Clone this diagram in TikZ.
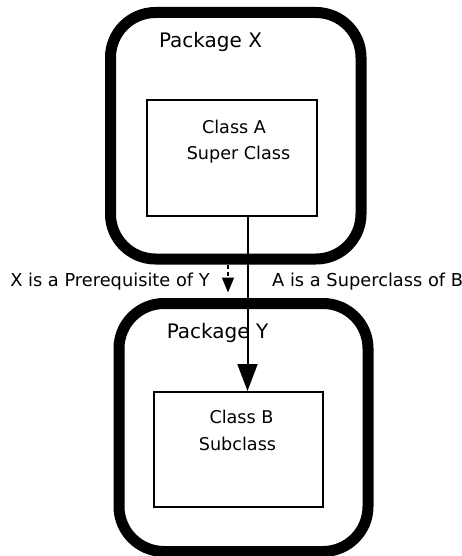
\documentclass[tikz,border=0pt]{standalone}
\usepackage{fontspec}
\setmainfont{DejaVu Sans}
\usepackage{tikz}
\usetikzlibrary{positioning,arrows.meta,calc}

\begin{document}
\begin{tikzpicture}[
    x=1pt, y=-1pt,
    package/.style={rectangle, rounded corners=45pt, draw=black, line width=11pt, inner sep=0pt, fill=white},
    classbox/.style={rectangle, draw=black, line width=2pt, inner sep=0pt, fill=white},
    pkglabel/.style={font=\fontsize{20}{23}\selectfont, inner sep=0pt},
    classlabel/.style={font=\fontsize{17.6}{20}\selectfont, inner sep=0pt},
    edgelabel/.style={font=\fontsize{17.8}{20}\selectfont, inner sep=0pt}
]
  \useasboundingbox (0,0) rectangle (462,556);
  \fill[white] (0,0) rectangle (462,556);

  \node[package, minimum width=250.5pt, minimum height=246.5pt] (pkgX) at (235.75,135.75) {};
  \node[package, minimum width=249pt, minimum height=248pt] (pkgY) at (243.5,427.5) {};

  \node[classbox, minimum width=170pt, minimum height=116pt] (classA) at (231.7,158) {};
  \node[classbox, minimum width=169pt, minimum height=115pt] (classB) at (238.5,449.5) {};

  \node[pkglabel] (pkgXname) at (210.5,42) {Package X};
  \node[pkglabel] (pkgYname) at (217.5,333) {Package Y};

  \node[classlabel] (classAname) at (234,127) {Class A};
  \node[classlabel] (classArole) at (238.5,155) {Super Class};
  \node[classlabel] (classBname) at (241.5,417) {Class B};
  \node[classlabel] (classBrole) at (237.5,444) {Subclass};

  \node[edgelabel] (prereq) at (110,282) {X is a Prerequisite of Y};
  \node[edgelabel, anchor=west] (superof) at (272,282) {A is a Superclass of B};

  \draw[line width=1.5pt, dashed, dash pattern=on 4pt off 3pt, -{Triangle[width=12pt,length=15pt]}, shorten >=5.5pt]
    ([xshift=-7.75pt]pkgX.south) -- ([xshift=-15.5pt]pkgY.north);
  \draw[line width=2pt, -{Triangle[width=20pt,length=27pt]}]
    ([xshift=15.8pt]classA.south) -- ([xshift=9pt]classB.north);
\end{tikzpicture}
\end{document}
